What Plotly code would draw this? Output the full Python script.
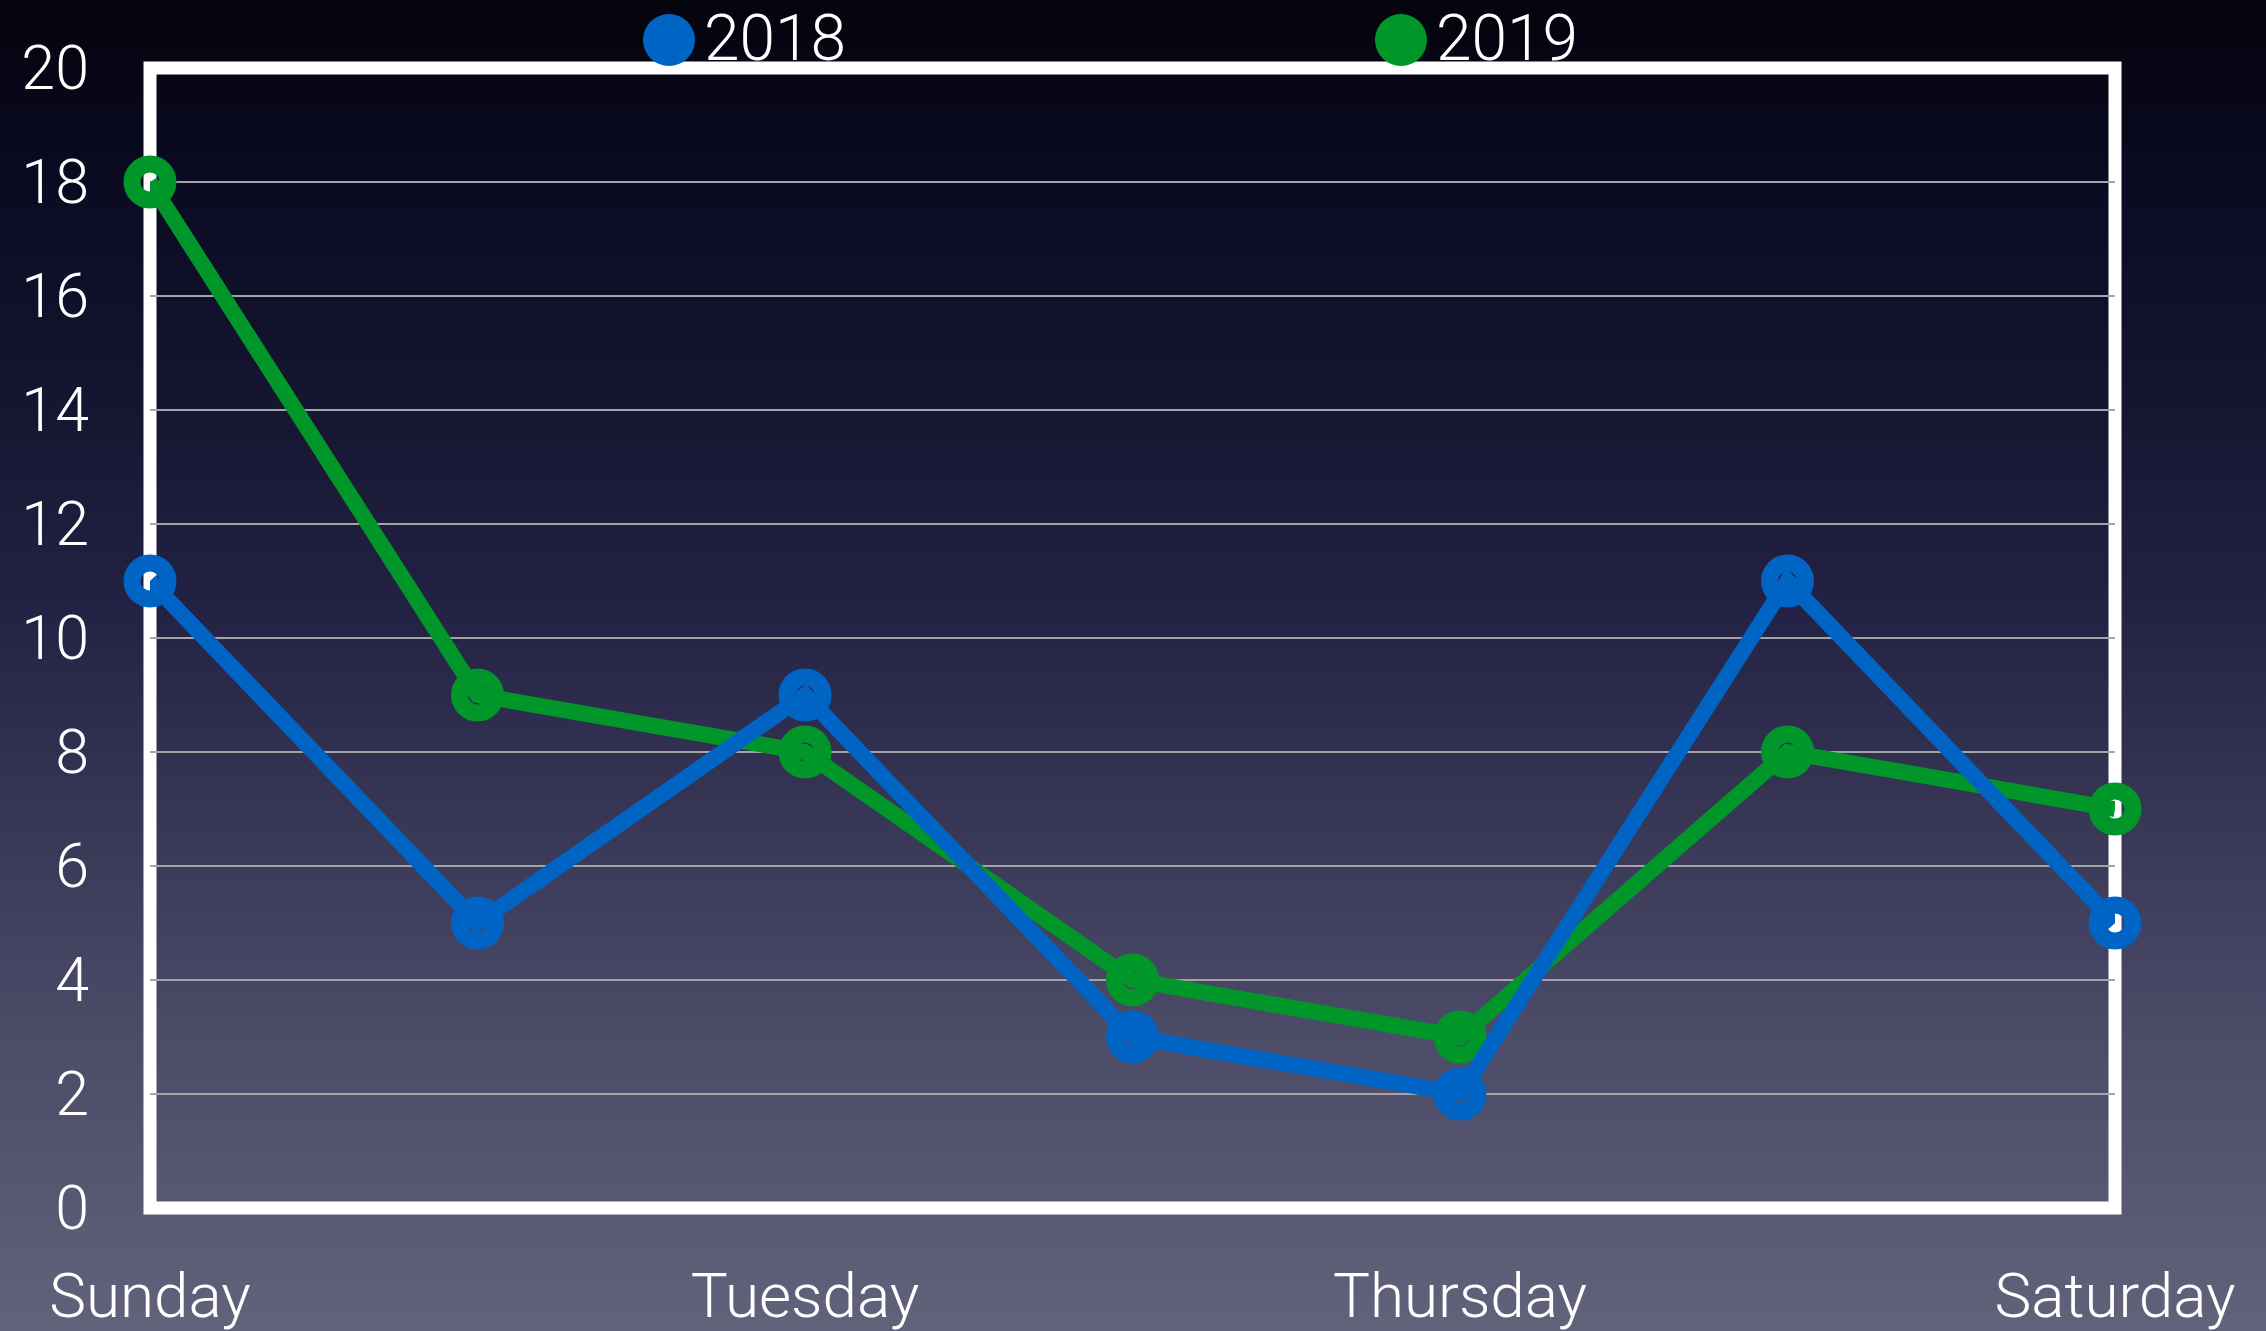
import base64
import plotly.graph_objects as go

# ---- data ----
days = ["Sunday", "Monday", "Tuesday", "Wednesday", "Thursday", "Friday", "Saturday"]
shown_day_ticks = ["Sunday", "Tuesday", "Thursday", "Saturday"]
series_names = ["2018", "2019"]
values_2018 = [11, 5, 9, 3, 2, 11, 5]
values_2019 = [18, 9, 8, 4, 3, 8, 7]
y_ticks = [0, 2, 4, 6, 8, 10, 12, 14, 16, 18, 20]

# ---- style ----
W, H = 2266, 1331
colors = {"2018": "#0064c4", "2019": "#00962a"}
FONT = "Roboto, 'Open Sans', Lato, sans-serif"

# plot-area pixel box (px from left/top)
PX_L, PX_R, PX_T, PX_B = 150, 2115, 68, 1208

# vertical gradient background as SVG data URI
stops = [(0.0, "#04040d"), (0.12, "#090920"), (0.3, "#151531"),
         (0.45, "#222143"), (0.62, "#383756"), (0.78, "#4c4b68"), (1.0, "#63627b")]
stop_str = "".join(f'<stop offset="{o}" stop-color="{c}"/>' for o, c in stops)
svg = (f'<svg xmlns="http://www.w3.org/2000/svg" width="{W}" height="{H}" '
       f'viewBox="0 0 {W} {H}" preserveAspectRatio="none"><defs>'
       f'<linearGradient id="g" x1="0" y1="0" x2="0" y2="1">{stop_str}</linearGradient>'
       f'</defs><rect x="0" y="0" width="{W}" height="{H}" fill="url(#g)"/></svg>')
bg_uri = "data:image/svg+xml;base64," + base64.b64encode(svg.encode()).decode()

fig = go.Figure()
for name, vals in [("2019", values_2019), ("2018", values_2018)]:
    fig.add_trace(go.Scatter(
        x=days, y=vals, name=name, mode="lines+markers",
        line=dict(color=colors[name], width=16),
        marker=dict(symbol="circle-open", size=36, color=colors[name],
                    line=dict(width=17, color=colors[name])),
        cliponaxis=False, showlegend=False,
    ))

# white frame around the plot area
fig.add_shape(type="rect", xref="paper", yref="paper",
              x0=PX_L / W, x1=PX_R / W, y0=1 - PX_B / H, y1=1 - PX_T / H,
              line=dict(color="white", width=13), layer="below")

# legend (symbol + label) across the top
legend_pos = {"2018": (669, 703), "2019": (1401, 1435)}
for name in series_names:
    cx, tx = legend_pos[name]
    r = 26
    fig.add_shape(type="circle", xref="paper", yref="paper",
                  x0=(cx - r) / W, x1=(cx + r) / W,
                  y0=1 - (40 + r) / H, y1=1 - (40 - r) / H,
                  fillcolor=colors[name], line=dict(width=0), layer="above")
    fig.add_annotation(text=name, xref="paper", yref="paper",
                       x=tx / W, y=1 - 39 / H, xanchor="left", yanchor="middle",
                       showarrow=False, borderpad=0,
                       font=dict(family=FONT, size=64, color="white", weight=300))

fig.update_layout(
    width=W, height=H, autosize=False,
    margin=dict(l=0, r=0, t=0, b=0, pad=0),
    paper_bgcolor="#05050f", plot_bgcolor="rgba(0,0,0,0)",
    images=[dict(source=bg_uri, xref="paper", yref="paper", x=0, y=1,
                 sizex=1, sizey=1, xanchor="left", yanchor="top",
                 sizing="stretch", layer="below")],
    showlegend=False,
    xaxis=dict(
        domain=[PX_L / W, PX_R / W], type="category", categoryorder="array",
        categoryarray=days, range=[0, 6], tickmode="array", tickvals=shown_day_ticks,
        ticktext=shown_day_ticks, showgrid=False, zeroline=False, showline=False,
        ticks="", ticklabelstandoff=46, automargin=False,
        tickfont=dict(family=FONT, size=62, color="white", weight=300),
    ),
    yaxis=dict(
        domain=[1 - PX_B / H, 1 - PX_T / H], range=[0, 20], tickmode="array",
        tickvals=y_ticks, showgrid=True, gridcolor="#a3a3a8", gridwidth=2,
        zeroline=False, showline=False, ticks="", ticklabelstandoff=60,
        automargin=False,
        tickfont=dict(family=FONT, size=61, color="white", weight=300),
    ),
)

fig.write_html(
    "out.html",
    config={"displayModeBar": False},
    post_script="document.body.style.margin='0';document.body.style.overflow='hidden';",
)
